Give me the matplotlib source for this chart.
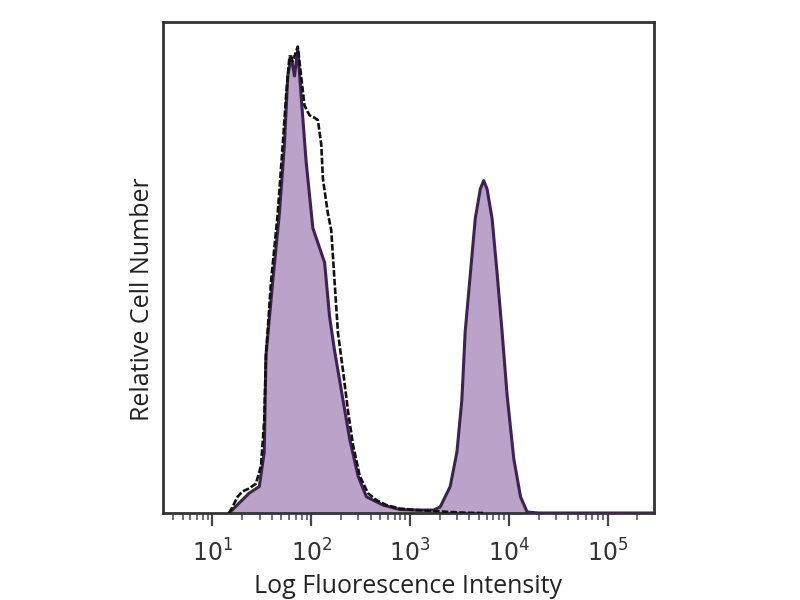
import numpy as np
import matplotlib
matplotlib.use("Agg")
import matplotlib.pyplot as plt
from matplotlib.ticker import LogLocator, NullFormatter

# Stained sample (filled histogram): intensity (log10) and relative count
stained_log = [1.17, 1.27, 1.37, 1.475, 1.525, 1.542, 1.61, 1.678, 1.729, 1.763,
               1.797, 1.831, 1.864, 1.898, 1.949, 2.017, 2.085, 2.136, 2.186, 2.237,
               2.305, 2.39, 2.475, 2.559, 2.729, 2.898, 3.068, 3.237, 3.305, 3.407,
               3.475, 3.525, 3.559, 3.61, 3.661, 3.712, 3.746, 3.78, 3.831, 3.881,
               3.932, 3.983, 4.051, 4.119, 4.186, 4.3, 5.47]
stained_cnt = [0.0, 2.0, 4.0, 5.4, 12.4, 32.0, 47.0, 61.0, 75.0, 89.0,
               93.0, 89.0, 94.4, 85.0, 71.5, 58.0, 54.0, 51.0, 40.0, 33.0,
               25.0, 15.0, 7.5, 3.3, 1.6, 0.7, 0.6, 0.6, 1.2, 5.4,
               12.4, 23.0, 37.0, 48.5, 60.0, 66.0, 67.7, 66.0, 60.0, 49.0,
               37.0, 24.0, 11.0, 3.3, 0.2, 0.0, 0.0]

# Isotype control (black outline)
control_log = [1.169, 1.203, 1.254, 1.305, 1.373, 1.441, 1.492, 1.525, 1.542, 1.593,
               1.661, 1.712, 1.746, 1.78, 1.814, 1.864, 1.898, 1.932, 1.983, 2.034,
               2.068, 2.102, 2.119, 2.169, 2.203, 2.237, 2.271, 2.322, 2.373, 2.424,
               2.492, 2.576, 2.661, 2.763, 2.898, 3.068, 3.237, 3.407, 3.576, 3.746]
control_cnt = [0.0, 1.2, 3.3, 4.4, 5.0, 6.0, 9.6, 19.0, 32.0, 47.0,
               61.0, 75.0, 85.0, 93.0, 92.0, 95.0, 89.0, 83.0, 81.0, 80.5,
               80.0, 75.0, 68.0, 61.0, 57.6, 47.0, 36.7, 29.0, 20.7, 13.8,
               7.5, 4.0, 2.6, 1.6, 0.9, 0.6, 0.4, 0.2, 0.05, 0.0]

x_label = "Log Fluorescence Intensity"
y_label = "Relative Cell Number"

fig = plt.figure(figsize=(8, 6), dpi=100)
ax = fig.add_axes([163/800, 1 - 513/600, (654 - 163)/800, (513 - 22)/600])

sx = 10 ** np.array(stained_log)
sy = np.array(stained_cnt)
cx = 10 ** np.array(control_log)
cy = np.array(control_cnt)

ax.fill_between(sx, 0, sy, color="#bba2c9", lw=0, zorder=1)
ax.plot(sx, sy, color="#3a2450", lw=2.2, zorder=3)
ax.plot(cx, cy, color="#111111", lw=1.9, ls=(0, (2.5, 0.8)), zorder=4)

ax.set_xscale("log")
ax.set_xlim(10 ** 0.5, 10 ** 5.47)
ax.set_ylim(0, 100)

ax.xaxis.set_major_locator(LogLocator(base=10, numticks=10))
ax.xaxis.set_minor_locator(LogLocator(base=10, subs=np.arange(2, 10), numticks=20))
ax.xaxis.set_minor_formatter(NullFormatter())
ax.tick_params(axis="x", which="major", direction="out", length=9, width=1.6,
               color="#444444", labelsize=17, pad=10, labelcolor="#333333")
ax.tick_params(axis="x", which="minor", direction="out", length=5, width=1.2,
               color="#555555")
ax.tick_params(axis="y", left=False, labelleft=False)

for s in ax.spines.values():
    s.set_color("#333333")
    s.set_linewidth(2.0)

ax.set_xlabel(x_label, fontsize=18, color="#222222", labelpad=5, family="Open Sans")
ax.set_ylabel(y_label, fontsize=18, color="#222222", family="Open Sans",
              va="center")
ax.yaxis.set_label_coords(-0.041, 0.436)

fig.savefig("out.png", dpi=100)
